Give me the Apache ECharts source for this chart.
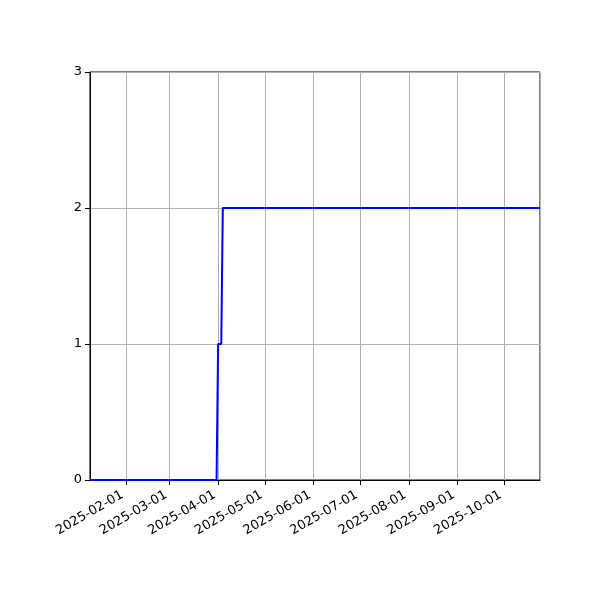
<!DOCTYPE html>
<html>
<head>
<meta charset="utf-8">
<script src="https://cdn.jsdelivr.net/npm/echarts@6/dist/echarts.min.js"></script>
<style>
html, body { margin: 0; padding: 0; background: #fff; }
#chart { width: 600px; height: 600px; }
</style>
</head>
<body>
<div id="chart"></div>
<script>
// step points
var dates = ['2025-01-09', '2025-03-31', '2025-04-01', '2025-04-03', '2025-04-04', '2025-10-24'];
var counts = [0, 0, 1, 1, 2, 2];
var xMin = '2025-01-09';
var xMax = '2025-10-24';
var yTicks = [0, 1, 2, 3];

var DAY = 24 * 3600 * 1000;

var chart = echarts.init(document.getElementById('chart'));
var seriesData = dates.map(function (d, i) {
    return [d, counts[i]];
});

var option = {
    animation: false,
    textStyle: { fontFamily: 'DejaVu Sans' },
    grid: {
        left: 90,
        right: 60,
        top: 72,
        bottom: 120,
        show: true,
        borderColor: '#000',
        borderWidth: 1,
        backgroundColor: 'transparent'
    },
    xAxis: {
        type: 'time',
        min: xMin,
        max: xMax,
        minInterval: 28 * DAY,
        maxInterval: 31 * DAY,
        axisLine: { show: true, lineStyle: { color: '#000', width: 1 } },
        axisTick: { show: true, length: 5, inside: false, lineStyle: { color: '#000' } },
        splitLine: { show: true, lineStyle: { color: '#b0b0b0', width: 1 } },
        axisLabel: {
            rotate: 30,
            color: '#000',
            fontSize: 13,
            margin: 12,
            padding: [0, 4, 0, 0],
            showMinLabel: false,
            showMaxLabel: false,
            formatter: '{yyyy}-{MM}-{dd}'
        }
    },
    yAxis: {
        type: 'value',
        min: yTicks[0],
        max: yTicks[yTicks.length - 1],
        interval: 1,
        axisLine: { show: true, lineStyle: { color: '#000', width: 1 } },
        axisTick: { show: true, length: 5, lineStyle: { color: '#000' } },
        splitLine: { show: true, lineStyle: { color: '#b0b0b0', width: 1 } },
        axisLabel: { color: '#000', fontSize: 13, margin: 8 }
    },
    series: [
        {
            type: 'line',
            data: seriesData,
            showSymbol: false,
            symbol: 'none',
            lineStyle: { color: '#0000ff', width: 2 },
            itemStyle: { color: '#0000ff' }
        }
    ]
};

chart.setOption(option);
</script>
</body>
</html>
